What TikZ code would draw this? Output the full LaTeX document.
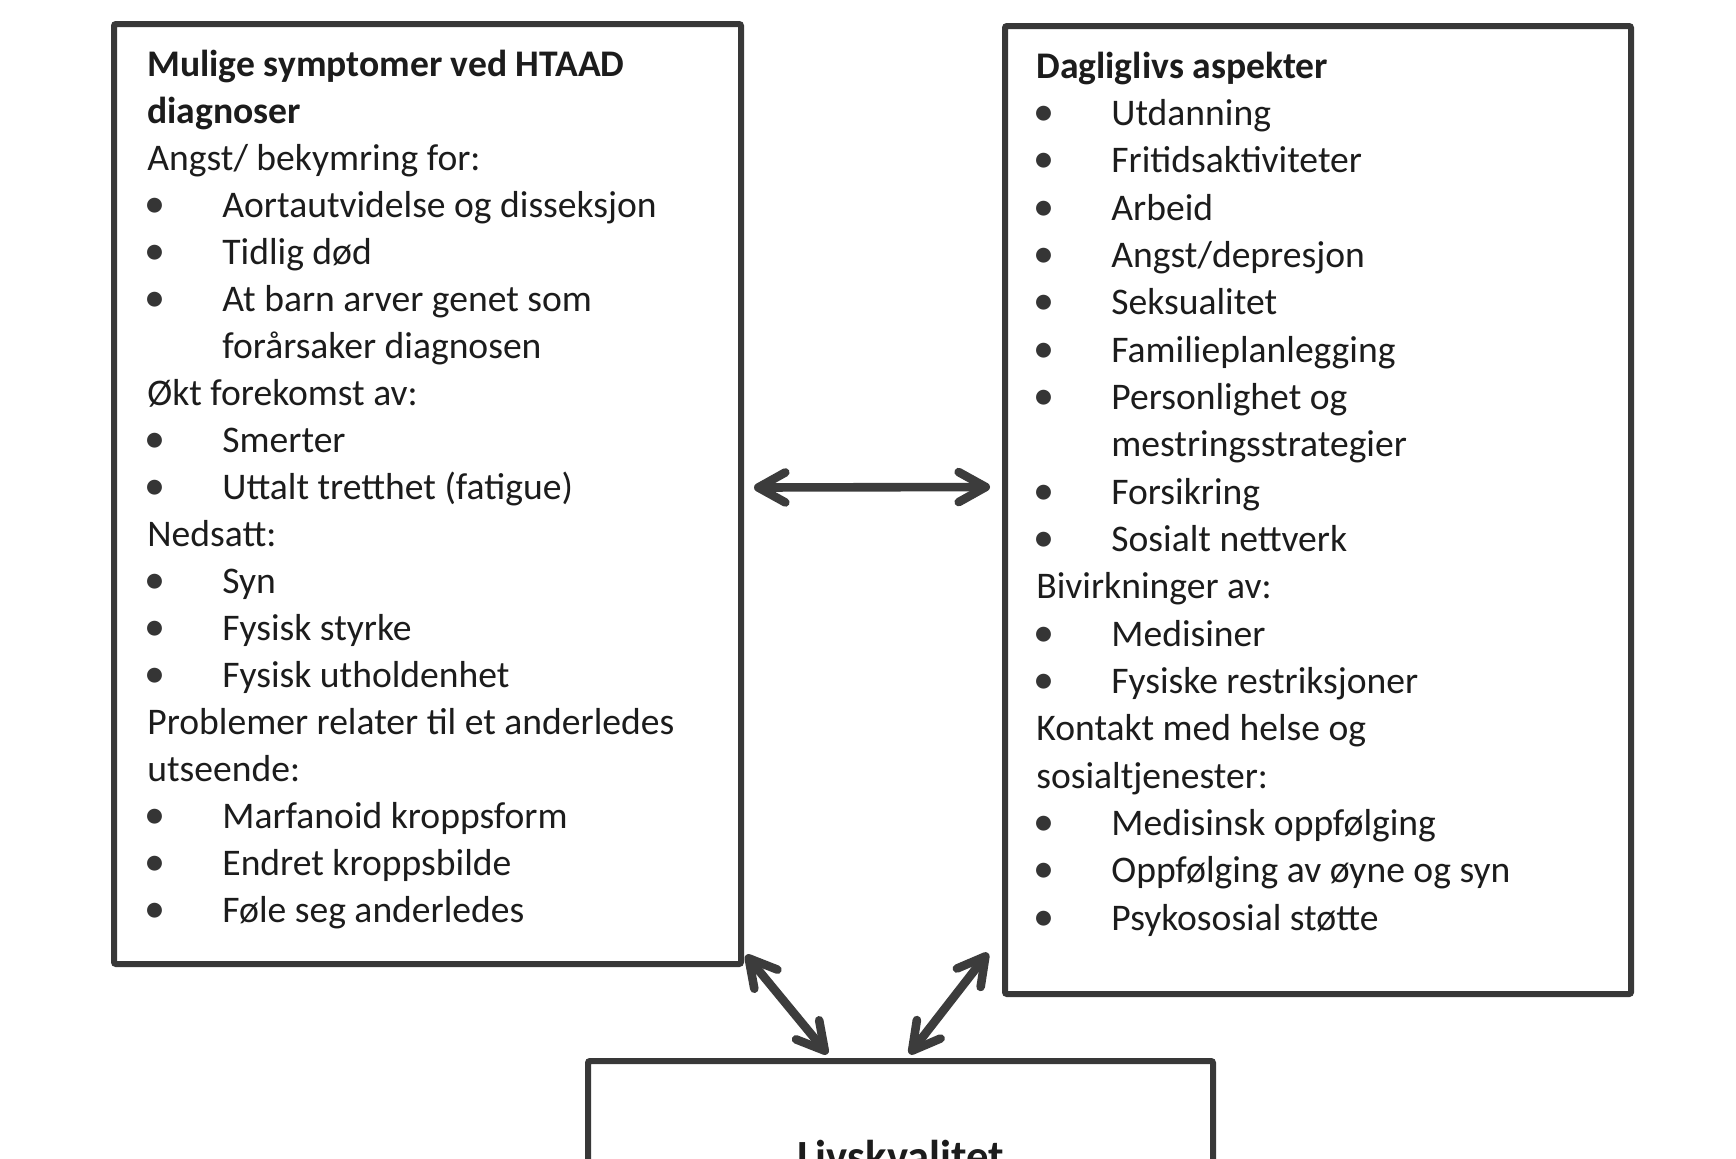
\documentclass[tikz,border=0pt]{standalone}
\usepackage{fontspec}
\setmainfont{Carlito}
\usepackage{graphicx}
\usetikzlibrary{arrows.meta,calc}
\definecolor{boxgray}{HTML}{383838}
\definecolor{arrowgray}{HTML}{3C3C3C}
\definecolor{textgray}{HTML}{1C1C1C}
\definecolor{bulletgray}{HTML}{353535}
\newcommand\blt{\makebox[37.5pt][l]{\hspace{-1.6pt}\raisebox{0pt}{\scalebox{1.12}{\textcolor{bulletgray}{•}}}}}
\newcommand\cont{\hspace*{37.5pt}}
\begin{document}
\begin{tikzpicture}[x=0.5pt,y=-0.5pt,
  box/.style={draw=boxgray, line width=3pt, rounded corners=1pt, inner sep=0pt, anchor=north west},
  boxtext/.style={anchor=base west, inner sep=0pt, text=textgray},
  link/.style={draw=arrowgray, line width=4.3pt,
    {Straight Barb[length=13.5pt,width=15pt,line cap=round,line join=round]}-{Straight Barb[length=13.5pt,width=15pt,line cap=round,line join=round]}}
]
\fill[white] (0,0) rectangle (1736,1158);
\useasboundingbox (0,0) rectangle (1736,1158);

\node[box, minimum width=313.5pt, minimum height=470pt] (symp) at (111,21) {};
\node[box, minimum width=313pt, minimum height=484pt] (daily) at (1002,23) {};
\node[box, minimum width=312.5pt, minimum height=150pt] (life) at (585,1058) {};

\node[boxtext] (symptext) at (147,76) {\parbox[t]{310pt}{\fontsize{18.8}{23.5}\selectfont\lineskiplimit=-20pt
\textbf{Mulige symptomer ved HTAAD}\\
\textbf{diagnoser}\\
Angst/ bekymring for:\\
\blt Aortautvidelse og disseksjon\\
\blt Tidlig død\\
\blt At barn arver genet som\\
\cont forårsaker diagnosen\\
Økt forekomst av:\\
\blt Smerter\\
\blt Uttalt tretthet (fatigue)\\
Nedsatt:\\
\blt Syn\\
\blt Fysisk styrke\\
\blt Fysisk utholdenhet\\
Problemer relater til et anderledes\\
utseende:\\
\blt Marfanoid kroppsform\\
\blt Endret kroppsbilde\\
\blt Føle seg anderledes}};

\node[boxtext] (dailytext) at (1036,78) {\parbox[t]{310pt}{\fontsize{18.8}{23.67}\selectfont\lineskiplimit=-20pt
\textbf{Dagliglivs aspekter}\\
\blt Utdanning\\
\blt Fritidsaktiviteter\\
\blt Arbeid\\
\blt Angst/depresjon\\
\blt Seksualitet\\
\blt Familieplanlegging\\
\blt Personlighet og\\
\cont mestringsstrategier\\
\blt Forsikring\\
\blt Sosialt nettverk\\
Bivirkninger av:\\
\blt Medisiner\\
\blt Fysiske restriksjoner\\
Kontakt med helse og\\
sosialtjenester:\\
\blt Medisinsk oppfølging\\
\blt Oppfølging av øyne og syn\\
\blt Psykososial støtte}};

\node[anchor=base, inner sep=0pt, text=textgray, font=\fontsize{22.3}{26}\selectfont\bfseries] (lifetext) at ($(life.north)+(0,113)$) {Livskvalitet};

\draw[link] ([shift={(10,-6.5)}]symp.east) -- ([shift={(-12,-23)}]daily.west);
\draw[link] ([shift={(2,-12)}]symp.south east) -- ([shift={(-73,-4)}]life.north);
\draw[link] ([shift={(-14,-44)}]daily.south west) -- ([shift={(9,-4)}]life.north);
\end{tikzpicture}
\end{document}
